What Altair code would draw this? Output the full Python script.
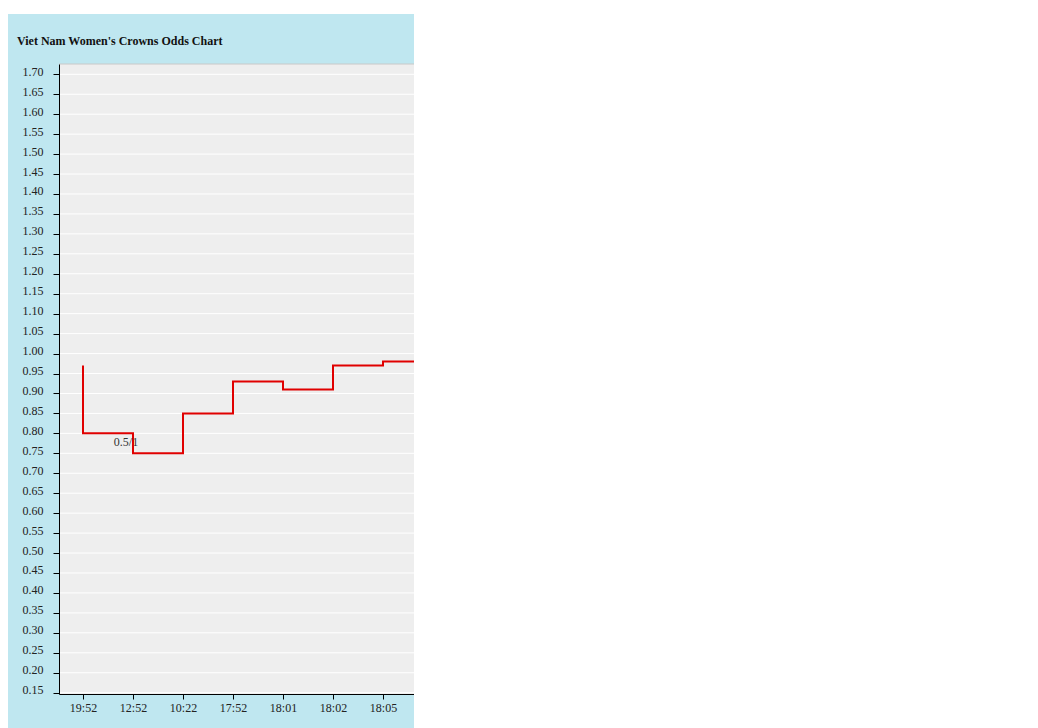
import altair as alt
import pandas as pd

# ---- data ----
times = ["19:52", "12:52", "10:22", "17:52", "18:01", "18:02", "18:05"]
step_pos = [0, 0, 1, 2, 3, 4, 5, 6, 7]
odds = [0.97, 0.80, 0.75, 0.85, 0.93, 0.91, 0.97, 0.98, 0.98]
y_ticks = [0.15, 0.20, 0.25, 0.30, 0.35, 0.40, 0.45, 0.50, 0.55, 0.60,
           0.65, 0.70, 0.75, 0.80, 0.85, 0.90, 0.95, 1.00, 1.05, 1.10,
           1.15, 1.20, 1.25, 1.30, 1.35, 1.40, 1.45, 1.50, 1.55, 1.60,
           1.65, 1.70]
label_text = ["0.5/1"]
label_pos = [0.86]
label_val = [0.778]
title_text = "Viet Nam Women's Crowns Odds Chart"

W, H = 355, 630
FONT = "Liberation Serif"
BLUE = "#bfe7f0"
GRAY = "#eeeeee"
RED = "#e00000"

line_df = pd.DataFrame({"pos": step_pos, "odds": odds, "seq": list(range(len(odds)))})
grid_df = pd.DataFrame({"odds": y_ticks})
lab_df = pd.DataFrame({"pos": label_pos, "odds": label_val, "txt": label_text})
one = pd.DataFrame({"k": [0]})

x_scale = alt.Scale(domain=[-0.48, 6.62], nice=False, zero=False)
y_scale = alt.Scale(domain=[0.1467, 1.7258], nice=False, zero=False)

label_expr = "[" + ",".join("'%s'" % t for t in times) + "][datum.value]"

x_enc = alt.X("pos:Q", scale=x_scale,
              axis=alt.Axis(values=list(range(len(times))), labelExpr=label_expr,
                            title=None, grid=False, tickSize=5, tickColor="black",
                            domainColor="black", labelFont=FONT, labelFontSize=12,
                            labelColor="#222", labelPadding=3, zindex=1))
y_enc = alt.Y("odds:Q", scale=y_scale,
              axis=alt.Axis(values=y_ticks, format=".2f", title=None, grid=False,
                            tickSize=6, tickColor="black", domainColor="black",
                            labelFont=FONT, labelFontSize=12, labelColor="#222",
                            labelPadding=10, labelOffset=-3, zindex=1))

bg = alt.Chart(one).mark_rect(color=BLUE).encode(
    x=alt.value(-51), x2=alt.value(W), y=alt.value(-50), y2=alt.value(H + 40))
plot_bg = alt.Chart(one).mark_rect(color=GRAY).encode(
    x=alt.value(0), x2=alt.value(W), y=alt.value(0), y2=alt.value(H))
grid = alt.Chart(grid_df).mark_rule(color="white", strokeWidth=1).encode(y=y_enc)
top_border = alt.Chart(one).mark_rule(color="#c8c8c8", strokeWidth=1).encode(
    x=alt.value(0), x2=alt.value(W), y=alt.value(0))
line = alt.Chart(line_df).mark_line(interpolate="step-after", clip=True,
                                    color=RED, strokeWidth=2).encode(
    x=x_enc, y=y_enc, order="seq:Q")
lab = alt.Chart(lab_df).mark_text(font=FONT, fontSize=12, color="#333",
                                  align="center", baseline="middle").encode(
    x=x_enc, y=y_enc, text="txt:N")
title = alt.Chart(one).mark_text(font=FONT, fontSize=12, fontWeight="bold",
                                 color="#111", align="left", baseline="middle").encode(
    x=alt.value(-42), y=alt.value(-23), text=alt.value(title_text))

chart = alt.layer(bg, plot_bg, grid, top_border, line, lab, title).properties(
    width=W, height=H,
    autosize=alt.AutoSizeParams(type="none"),
    padding={"left": 51, "top": 56, "right": 0, "bottom": 34},
).configure_view(strokeOpacity=0, fill="white")

chart.save("out.html", embed_options={"renderer": "svg", "actions": False})
